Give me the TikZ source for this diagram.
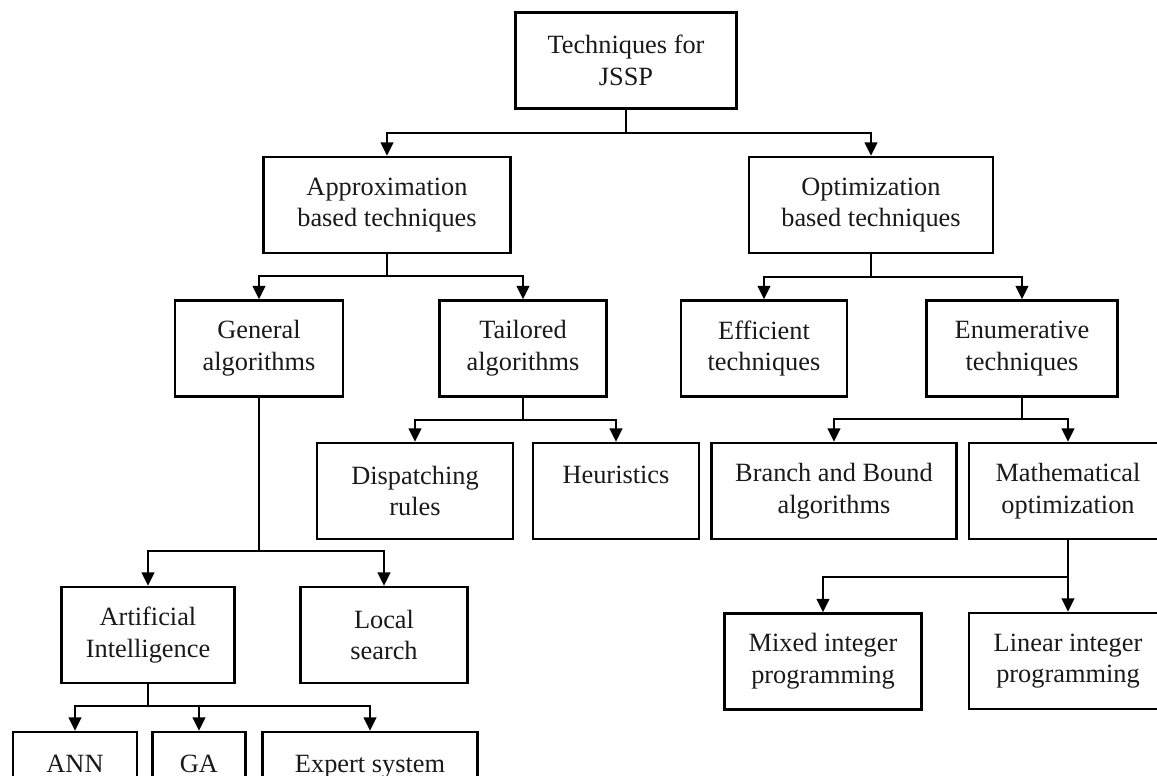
\documentclass[tikz,border=0pt]{standalone}
\usepackage{fontspec}
\setmainfont{Liberation Serif}
\usetikzlibrary{arrows.meta}
\tikzset{
	box/.style={draw, line width=1.3pt, align=center, minimum height=1.92cm, inner sep=2pt, text=black!90, font=\fontsize{15}{18}\selectfont},
	link/.style={line width=1.3pt, -{Triangle[width=0.25cm,length=0.27cm]}},
	stem/.style={line width=1.3pt}
}
\begin{document}
\begin{tikzpicture}[x=0.02cm,y=-0.02cm]
	\useasboundingbox (0,0) rectangle (1157,776);
	\begin{scope}
	\clip (0,0) rectangle (1157,776);
	% level 0 and 1
	\node[box, minimum width=4.42cm] (root) at (626,60.5) {Techniques for\\JSSP};
	\node[box, minimum width=4.94cm] (approx) at (387,205) {Approximation\\based techniques};
	\node[box, minimum width=4.88cm] (optim) at (871,205) {Optimization\\based techniques};
	% level 2
	\node[box, minimum width=3.36cm] (general) at (259,348.5) {General\\algorithms};
	\node[box, minimum width=3.34cm] (tailored) at (523,348.5) {Tailored\\algorithms};
	\node[box, minimum width=3.32cm] (efficient) at (764,348.5) {Efficient\\techniques};
	\node[box, minimum width=3.82cm] (enum) at (1022,348.5) {Enumerative\\techniques};
	% level 3
	\node[box, minimum width=3.92cm] (dispatch) at (415,491) {Dispatching\\rules};
	\node[box, minimum width=3.32cm] (heur) at (616,491) {Heuristics\\\mbox{}};
	\node[box, minimum width=4.90cm] (bnb) at (834,491) {Branch and Bound\\algorithms};
	\node[box, minimum width=3.96cm] (math) at (1068,491) {Mathematical\\optimization};
	% level 4
	\node[box, minimum width=3.46cm] (ai) at (148,635) {Artificial\\Intelligence};
	\node[box, minimum width=3.34cm] (local) at (384,635) {Local\\search};
	\node[box, minimum width=3.94cm] (mixed) at (823,661.5) {Mixed integer\\programming};
	\node[box, minimum width=3.96cm] (linear) at (1068,661) {Linear integer\\programming};
	% level 5
	\node[box, minimum width=2.48cm] (ann) at (75,780) {ANN\\\mbox{}};
	\node[box, minimum width=1.86cm] (ga) at (199,780) {GA\\\mbox{}};
	\node[box, minimum width=4.30cm] (expert) at (370,780) {Expert system\\\mbox{}};
	% junctions
	\coordinate (j0) at (626,133);
	\coordinate (j1) at (387,276);
	\coordinate (j2) at (871,277);
	\coordinate (j3) at (523,420);
	\coordinate (j4) at (1022,419);
	\coordinate (j5) at (259,551);
	\coordinate (j6) at (1068,577);
	\coordinate (j7) at (148,706);
	% connectors
	\draw[stem] (root) -- (j0);
	\draw[link] (j0) -| (approx.north);
	\draw[link] (j0) -| (optim.north);
	\draw[stem] (approx) -- (j1);
	\draw[link] (j1) -| (general.north);
	\draw[link] (j1) -| (tailored.north);
	\draw[stem] (optim) -- (j2);
	\draw[link] (j2) -| (efficient.north);
	\draw[link] (j2) -| (enum.north);
	\draw[stem] (tailored) -- (j3);
	\draw[link] (j3) -| (dispatch.north);
	\draw[link] (j3) -| (heur.north);
	\draw[stem] (enum) -- (j4);
	\draw[link] (j4) -| (bnb.north);
	\draw[link] (j4) -| (math.north);
	\draw[stem] (general) -- (j5);
	\draw[link] (j5) -| (ai.north);
	\draw[link] (j5) -| (local.north);
	\draw[stem] (math) -- (j6);
	\draw[link] (j6) -| (mixed.north);
	\draw[link] (j6) -- (linear.north);
	\draw[stem] (ai) -- (j7);
	\draw[link] (j7) -| (ann.north);
	\draw[link] (j7) -| (ga.north);
	\draw[link] (j7) -| (expert.north);
	\end{scope}
\end{tikzpicture}
\end{document}
